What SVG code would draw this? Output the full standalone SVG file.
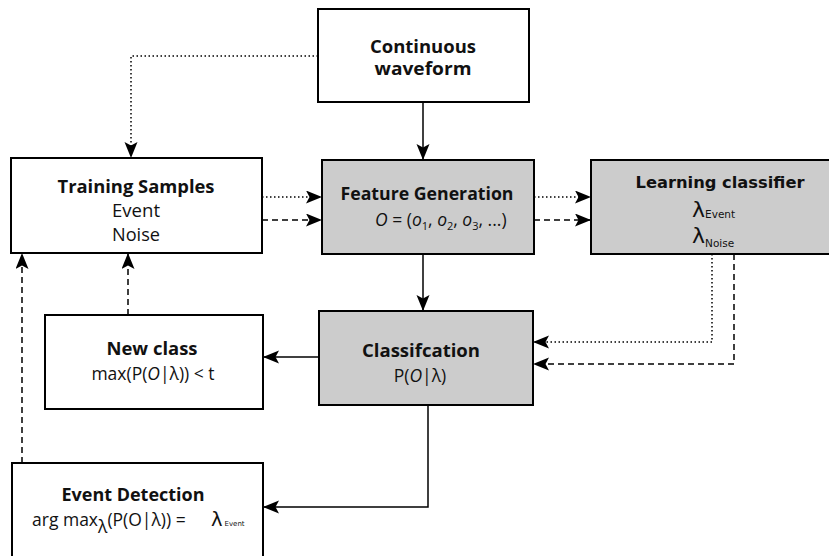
<svg xmlns="http://www.w3.org/2000/svg" width="829" height="556" viewBox="0 0 829 556">
  <style>
    .box { fill: #ffffff; stroke: #000000; stroke-width: 2; }
    .grey { fill: #cccccc; }
    .t { font-family: "Open Sans", "Liberation Sans", sans-serif; font-size: 17.5px; fill: #111111; text-anchor: middle; }
    .s { text-anchor: start; }
    .b { font-weight: 700; font-size: 17px; }
    .dv { font-family: "DejaVu Sans", sans-serif; fill: #111111; }
    .ln { fill: none; stroke: #000000; stroke-width: 1.5; }
    .dot { stroke-dasharray: 1.5 2.5; }
    .dash { stroke-dasharray: 6 4; }
  </style>
  <defs>
    <marker id="arrow" markerUnits="userSpaceOnUse" markerWidth="17" markerHeight="14" refX="16" refY="6.5" orient="auto">
      <path d="M0,0 L16,6.5 L0,13 L3.5,6.5 Z" fill="#000000"/>
    </marker>
  </defs>

  <rect width="829" height="556" fill="#ffffff"/>

  <g id="connectors">
    <path class="ln dot" d="M318,56 H131 V158" marker-end="url(#arrow)"/>
    <path class="ln" d="M423,102 V160" marker-end="url(#arrow)"/>
    <path class="ln dot" d="M262,197 H322" marker-end="url(#arrow)"/>
    <path class="ln dash" d="M262,220 H322" marker-end="url(#arrow)"/>
    <path class="ln dot" d="M534,197 H591" marker-end="url(#arrow)"/>
    <path class="ln dash" d="M534,220 H591" marker-end="url(#arrow)"/>
    <path class="ln" d="M423,254 V311" marker-end="url(#arrow)"/>
    <path class="ln dot" d="M712,254 V342 H533" marker-end="url(#arrow)"/>
    <path class="ln dash" d="M734,254 V364 H533" marker-end="url(#arrow)"/>
    <path class="ln" d="M319,357 H263" marker-end="url(#arrow)"/>
    <path class="ln dash" d="M128,315 V253" marker-end="url(#arrow)"/>
    <path class="ln dash" d="M22,463 V253" marker-end="url(#arrow)"/>
    <path class="ln" d="M428,405 V507 H263" marker-end="url(#arrow)"/>
  </g>

  <g id="continuous-waveform">
    <rect class="box" x="318" y="9" width="211" height="93"/>
    <text class="t b" x="423" y="53" textLength="106" lengthAdjust="spacingAndGlyphs">Continuous</text>
    <text class="t b" x="423" y="75" textLength="97" lengthAdjust="spacingAndGlyphs">waveform</text>
  </g>

  <g id="training-samples">
    <rect class="box" x="11" y="158" width="251" height="95"/>
    <text class="t b" x="136" y="193" textLength="157" lengthAdjust="spacingAndGlyphs">Training Samples</text>
    <text class="t" x="136" y="217" textLength="48" lengthAdjust="spacingAndGlyphs">Event</text>
    <text class="t" x="136" y="241" textLength="48" lengthAdjust="spacingAndGlyphs">Noise</text>
  </g>

  <g id="feature-generation">
    <rect class="box grey" x="322" y="160" width="212" height="94"/>
    <text class="t b" x="427" y="200" textLength="173" lengthAdjust="spacingAndGlyphs">Feature Generation</text>
    <text class="t s" x="375" y="226" font-size="16"><tspan font-style="italic">O</tspan> = (<tspan font-style="italic">o</tspan><tspan font-size="11" dy="4">1</tspan><tspan dy="-4">, </tspan><tspan font-style="italic">o</tspan><tspan font-size="11" dy="4">2</tspan><tspan dy="-4">, </tspan><tspan font-style="italic">o</tspan><tspan font-size="11" dy="4">3</tspan><tspan dy="-4">, ...)</tspan></text>
  </g>

  <g id="learning-classifier">
    <rect class="box grey" x="591" y="160" width="250" height="94"/>
    <text class="dv" x="720" y="188" font-size="15.5" font-weight="700" text-anchor="middle" textLength="169" lengthAdjust="spacingAndGlyphs">Learning classifier</text>
    <text class="dv" x="692" y="217" font-size="22">λ<tspan font-size="10.5" dy="1">Event</tspan></text>
    <text class="dv" x="692" y="243" font-size="22">λ<tspan font-size="10.5" dy="4">Noise</tspan></text>
  </g>

  <g id="classification">
    <rect class="box grey" x="319" y="311" width="214" height="94"/>
    <text class="t b" x="421" y="357" textLength="118" lengthAdjust="spacingAndGlyphs">Classifcation</text>
    <text class="t" x="420" y="382">P(<tspan font-style="italic">O</tspan>|λ)</text>
  </g>

  <g id="new-class">
    <rect class="box" x="45" y="315" width="218" height="94"/>
    <text class="t b" x="152" y="355" textLength="91" lengthAdjust="spacingAndGlyphs">New class</text>
    <text class="t" x="153" y="380">max(P(<tspan font-style="italic">O</tspan>|λ)) &lt; t</text>
  </g>

  <g id="event-detection">
    <rect class="box" x="12" y="463" width="251" height="100"/>
    <text class="t b" x="133" y="501" textLength="143" lengthAdjust="spacingAndGlyphs">Event Detection</text>
    <text class="t s" x="32" y="526">arg max<tspan dy="7">λ</tspan><tspan dy="-7">(P(O|λ)) =</tspan></text>
    <text class="dv" x="211" y="526" font-size="19.5">λ<tspan font-size="7" dx="2">Event</tspan></text>
  </g>
</svg>
